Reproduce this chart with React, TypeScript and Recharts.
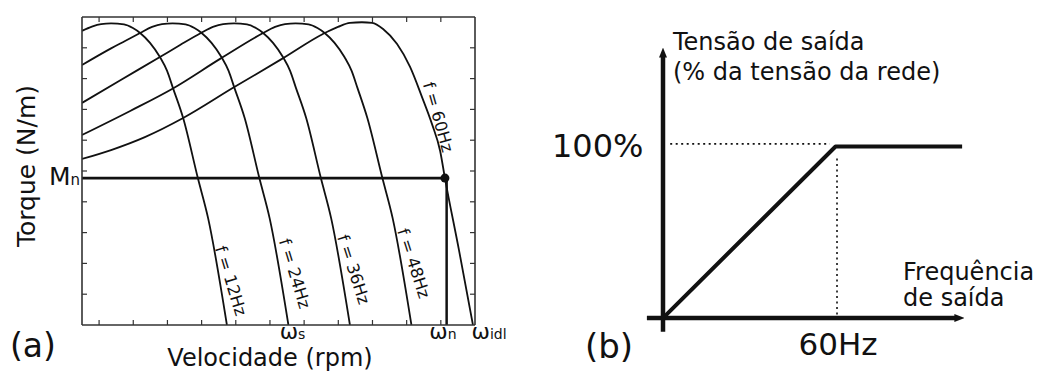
import { LineChart, Line, XAxis, YAxis, ReferenceLine, ReferenceDot } from "recharts";

const FONT = "'DejaVu Sans', Verdana, sans-serif";
const INK = "#111";
const FRAME = "#333";

// (a) torque x speed, one curve per supply frequency
// speed in tenths of a tick step (ticks at 5..105), torque in % of the box height
const speed12 = [0, 2.9, 5.6, 8.5, 12.3, 14.9, 17.0, 19.9, 22.8, 24.9, 26.6, 29.6, 33.9, 36.9, 42.4];
const torque12 = [95.5, 96.9, 97.7, 97.9, 97.6, 96.4, 94.8, 91.6, 87.0, 82.5, 77.0, 67.2, 47.7, 34.7, 0];

const speed24 = [0, 8.5, 12.6, 17.0, 20.5, 23.4, 26.5, 30.3, 32.9, 35.0, 37.9, 40.8, 42.9, 44.6, 47.6, 51.9, 54.9, 60.4];
const torque24 = [84.4, 89.8, 92.2, 94.8, 96.8, 97.7, 97.9, 97.6, 96.4, 94.8, 91.6, 87.0, 82.5, 77.0, 67.2, 47.7, 34.7, 0];

const speed36 = [0, 11.1, 22.8, 28.7, 34.8, 38.3, 41.3, 44.5, 48.3, 50.9, 53.0, 55.9, 58.8, 60.9, 62.6, 65.6, 69.9, 72.9, 78.4];
const torque36 = [72.1, 79.4, 87.0, 90.9, 94.8, 96.8, 97.7, 97.9, 97.6, 96.4, 94.8, 91.6, 87.0, 82.5, 77.0, 67.2, 47.7, 34.7, 0];

const speed48 = [0, 14.1, 26.6, 40.4, 53.0, 56.5, 59.4, 62.5, 66.3, 68.9, 71.0, 73.9, 76.8, 78.9, 80.6, 83.5, 87.9, 90.9, 96.4];
const torque48 = [61.7, 69.5, 76.8, 86.4, 94.8, 96.8, 97.7, 97.9, 97.6, 96.4, 94.8, 91.6, 87.0, 82.5, 77.0, 67.2, 47.7, 34.7, 0];

const speed60 = [0, 8.5, 18.4, 29.6, 44.2, 58.5, 70.5, 74.9, 78.4, 81.9, 84.9, 88.1, 92.2, 96.0, 99.5, 102.4, 104.8, 106.2, 110.3, 114.4];
const torque60 = [53.9, 56.8, 61.0, 67.2, 77.0, 86.4, 94.5, 96.8, 98.1, 98.3, 98.1, 96.1, 91.2, 83.8, 74.0, 65.3, 56.5, 47.7, 24.4, 0];

const freqNames = ["f = 12Hz", "f = 24Hz", "f = 36Hz", "f = 48Hz", "f = 60Hz"];

const speedTicks = [5, 15, 25, 35, 45, 55, 65, 75, 85, 95, 105];
const torqueTicks = [10, 20, 30, 40, 50, 60, 70, 80, 90];

const ratedTorque = 47.7;
const ratedSpeed = 106.2;

const speedMarkNames = ["ω", "ω", "ω"];
const speedMarkSubs = ["s", "n", "idl"];
const speedMarkAt = [61.6, 105.6, 119.1];

// (b) V/f output curve
const outFreq = [0, 60, 104];
const outVolt = [0, 100, 100];

const toPoints = (xs: number[], ys: number[]) => xs.map((x, i) => ({ x, y: ys[i] }));

const curves = [
  toPoints(speed12, torque12),
  toPoints(speed24, torque24),
  toPoints(speed36, torque36),
  toPoints(speed48, torque48),
  toPoints(speed60, torque60),
];

// where each "f = ..Hz" tag sits, beside its curve
const tagAt = [
  { x: 43.5, y: 14.3, angle: 73 },
  { x: 62.2, y: 16.7, angle: 73 },
  { x: 79.4, y: 18.0, angle: 72 },
  { x: 97.0, y: 20.0, angle: 72 },
  { x: 104.2, y: 67.5, angle: 74 },
];

const center = (vb: any) => ({ cx: vb.x + vb.width / 2, cy: vb.y + vb.height / 2 });

const tagContent = (angle: number) => (p: any) => {
  const { cx, cy } = center(p.viewBox);
  return (
    <text
      x={cx}
      y={cy}
      transform={`rotate(${angle} ${cx} ${cy})`}
      textAnchor="middle"
      dominantBaseline="central"
      fontSize={16.5}
      fontFamily={FONT}
      fill={INK}
    >
      {p.value}
    </text>
  );
};

const markContent = (sub: string) => (p: any) => {
  const { cx, cy } = center(p.viewBox);
  return (
    <text x={cx} y={cy + 14} textAnchor="middle" fontSize={22} fontFamily={FONT} fill={INK}>
      {p.value}
      <tspan fontSize={14}>{sub}</tspan>
    </text>
  );
};

const mnContent = (p: any) => {
  const { cx, cy } = center(p.viewBox);
  return (
    <text x={cx - 2} y={cy + 7} textAnchor="end" fontSize={25} fontFamily={FONT} fill={INK}>
      M<tspan fontSize={15}>n</tspan>
    </text>
  );
};

const frameAxis = {
  mirror: true,
  tickSize: 5,
  tickFormatter: () => "",
  axisLine: { stroke: FRAME, strokeWidth: 1.6 },
  tickLine: { stroke: FRAME, strokeWidth: 1.2 },
  allowDataOverflow: true,
};

function TorqueSpeed() {
  return (
    <LineChart width={1038} height={372} margin={{ top: 17, right: 563, bottom: 47, left: 82 }}>
      <XAxis xAxisId="b" type="number" dataKey="x" domain={[0, 115]} ticks={speedTicks} {...frameAxis} />
      <XAxis xAxisId="t" orientation="top" type="number" dataKey="x" domain={[0, 115]} ticks={speedTicks} {...frameAxis} />
      <YAxis yAxisId="l" type="number" domain={[0, 100]} ticks={torqueTicks} {...frameAxis} />
      <YAxis yAxisId="r" orientation="right" type="number" domain={[0, 100]} ticks={torqueTicks} {...frameAxis} />

      {curves.map((data, i) => (
        <Line
          key={freqNames[i]}
          data={data}
          xAxisId="b"
          yAxisId="l"
          dataKey="y"
          type="monotone"
          dot={false}
          stroke={INK}
          strokeWidth={1.8}
          isAnimationActive={false}
        />
      ))}

      <ReferenceLine
        xAxisId="b"
        yAxisId="l"
        segment={[{ x: 0, y: ratedTorque }, { x: ratedSpeed, y: ratedTorque }]}
        stroke={INK}
        strokeWidth={2.8}
        ifOverflow="visible"
      />
      <ReferenceLine
        xAxisId="b"
        yAxisId="l"
        segment={[{ x: ratedSpeed + 0.5, y: ratedTorque }, { x: ratedSpeed + 0.5, y: 0 }]}
        stroke={INK}
        strokeWidth={2.5}
        ifOverflow="visible"
      />
      <ReferenceDot xAxisId="b" yAxisId="l" x={ratedSpeed} y={ratedTorque} r={4.5} fill={INK} stroke="none" ifOverflow="visible" />

      {tagAt.map((t, i) => (
        <ReferenceDot
          key={`tag-${i}`}
          xAxisId="b"
          yAxisId="l"
          x={t.x}
          y={t.y}
          r={1}
          fill="none"
          stroke="none"
          ifOverflow="visible"
          label={{ value: freqNames[i], content: tagContent(t.angle) }}
        />
      ))}

      {speedMarkAt.map((x, i) => (
        <ReferenceDot
          key={`mark-${i}`}
          xAxisId="b"
          yAxisId="l"
          x={x}
          y={0}
          r={1}
          fill="none"
          stroke="none"
          ifOverflow="visible"
          label={{ value: speedMarkNames[i], content: markContent(speedMarkSubs[i]) }}
        />
      ))}

      <ReferenceDot
        xAxisId="b"
        yAxisId="l"
        x={0}
        y={ratedTorque}
        r={1}
        fill="none"
        stroke="none"
        ifOverflow="visible"
        label={{ value: "Mn", content: mnContent }}
      />

      <text x={35} y={166} transform="rotate(-90 35 166)" textAnchor="middle" fontSize={25} fontFamily={FONT} fill={INK}>
        Torque (N/m)
      </text>
      <text x={270} y={366} textAnchor="middle" fontSize={24} fontFamily={FONT} fill={INK}>
        Velocidade (rpm)
      </text>
      <text x={10} y={357} fontSize={33} fontFamily={FONT} fill={INK}>
        (a)
      </text>
    </LineChart>
  );
}

function VoltsPerHertz() {
  return (
    <LineChart width={1038} height={372} margin={{ top: 47, right: 73, bottom: 54, left: 663 }}>
      <defs>
        <marker id="axisArrow" markerUnits="userSpaceOnUse" markerWidth={10} markerHeight={8} refX={2} refY={4} orient="auto">
          <path d="M0,0 L10,4 L0,8 z" fill={INK} />
        </marker>
      </defs>
      <XAxis type="number" dataKey="x" domain={[0, 105]} hide allowDataOverflow />
      <YAxis type="number" domain={[0, 158]} hide allowDataOverflow />

      <ReferenceLine
        segment={[{ x: 2.5, y: 101.5 }, { x: 58, y: 101.5 }]}
        stroke={INK}
        strokeWidth={1.6}
        strokeDasharray="2 3.5"
        ifOverflow="visible"
      />
      <ReferenceLine
        segment={[{ x: 60.5, y: 2 }, { x: 60.5, y: 95 }]}
        stroke={INK}
        strokeWidth={1.6}
        strokeDasharray="2 3.5"
        ifOverflow="visible"
      />
      <ReferenceLine
        segment={[{ x: -5.6, y: 0 }, { x: 102, y: 0 }]}
        stroke={INK}
        strokeWidth={4.5}
        markerEnd="url(#axisArrow)"
        ifOverflow="visible"
      />
      <ReferenceLine
        segment={[{ x: 0, y: -8 }, { x: 0, y: 153 }]}
        stroke={INK}
        strokeWidth={4.5}
        markerEnd="url(#axisArrow)"
        ifOverflow="visible"
      />

      <Line
        data={toPoints(outFreq, outVolt)}
        dataKey="y"
        type="linear"
        dot={false}
        stroke={INK}
        strokeWidth={4}
        strokeLinejoin="round"
        isAnimationActive={false}
      />

      <text x={673} y={50} fontSize={24} fontFamily={FONT} fill={INK}>
        Tensão de saída
      </text>
      <text x={673} y={80} fontSize={24} fontFamily={FONT} fill={INK}>
        (% da tensão da rede)
      </text>
      <text x={552} y={157} fontSize={32} fontFamily={FONT} fill={INK}>
        100%
      </text>
      <text x={903} y={280} fontSize={24} fontFamily={FONT} fill={INK}>
        Frequência
      </text>
      <text x={903} y={306} fontSize={24} fontFamily={FONT} fill={INK}>
        de saída
      </text>
      <text x={838} y={355} textAnchor="middle" fontSize={31} fontFamily={FONT} fill={INK}>
        60Hz
      </text>
      <text x={585} y={358} fontSize={34} fontFamily={FONT} fill={INK}>
        (b)
      </text>
    </LineChart>
  );
}

export default function App() {
  return (
    <div style={{ position: "absolute", left: 0, top: 0, width: 1038, height: 372, background: "#fff" }}>
      <div style={{ position: "absolute", left: 0, top: 0 }}>
        <TorqueSpeed />
      </div>
      <div style={{ position: "absolute", left: 0, top: 0 }}>
        <VoltsPerHertz />
      </div>
    </div>
  );
}
